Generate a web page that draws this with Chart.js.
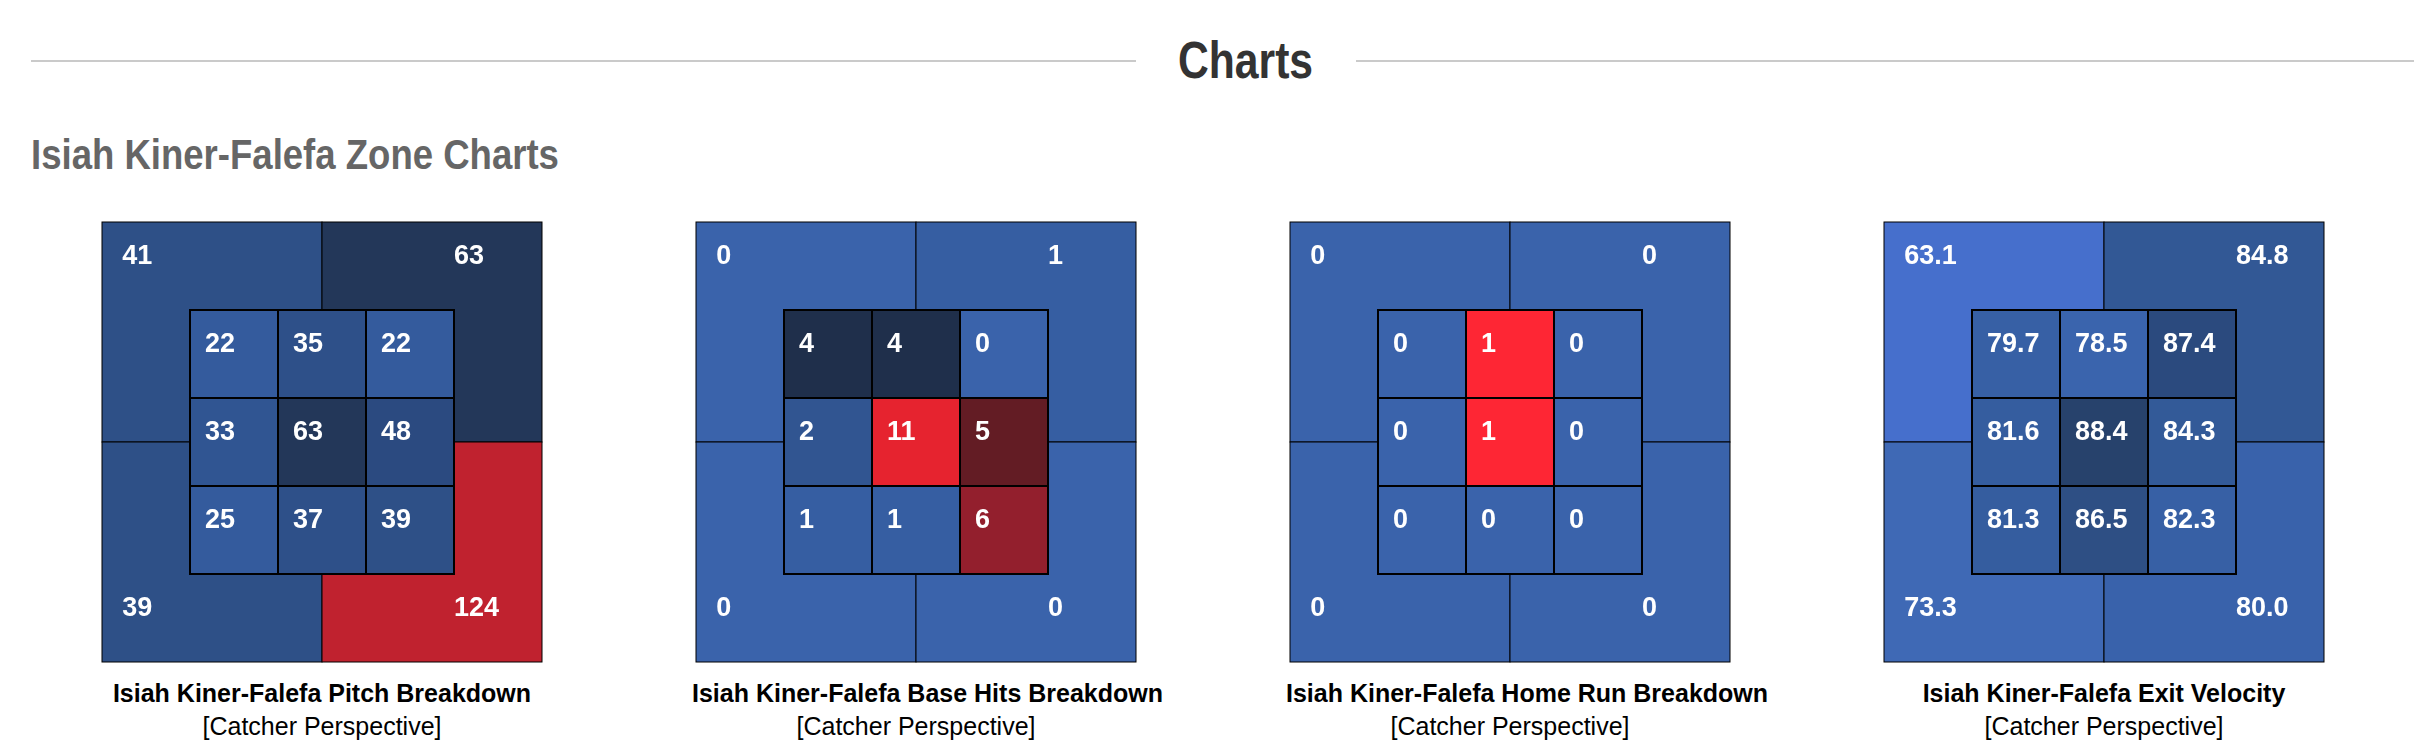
<!DOCTYPE html>
<html>
<head>
<meta charset="utf-8">
<script src="https://cdn.jsdelivr.net/npm/chart.js@4.4.1/dist/chart.umd.min.js"></script>
<style>
  body { margin: 0; width: 2414px; height: 754px; background: #fff; position: relative; overflow: hidden;
         font-family: "Liberation Sans", Arial, Helvetica, sans-serif; }
  .rule { position: absolute; top: 60px; height: 2px; background: #cacaca; }
  .head { position: absolute; font-family: "Liberation Sans", Arial, sans-serif;
          font-weight: bold; line-height: 1; white-space: nowrap; transform-origin: left top; }
  .zone { position: absolute; top: 218px; }
  .zone canvas { display: block; }
  .cap { width: 448px; text-align: center; color: #000; font-size: 25px; line-height: 1; white-space: nowrap; }
  .cap b { display: block; margin-top: 15px; }
  .cap span { display: block; margin-top: 8px; }
</style>
</head>
<body>
<div class="rule" style="left:31px;width:1105px"></div>
<div class="rule" style="left:1356px;width:1058px"></div>
<div class="head" style="left:1178px;top:34px;font-size:52px;color:#333;transform:scaleX(0.82)">Charts</div>
<div class="head" style="left:31px;top:134px;font-size:42px;color:#666;transform:scaleX(0.87)">Isiah Kiner-Falefa Zone Charts</div>
<div id="zones"></div>

<script>
// zone values: outer = [top-left, top-right, bottom-left, bottom-right], inner = 3x3 by rows
const titles = [
  'Isiah Kiner-Falefa Pitch Breakdown',
  'Isiah Kiner-Falefa Base Hits Breakdown',
  'Isiah Kiner-Falefa Home Run Breakdown',
  'Isiah Kiner-Falefa Exit Velocity'
];
const pitchOuter = [41, 63, 39, 124];
const pitchInner = [22, 35, 22, 33, 63, 48, 25, 37, 39];
const hitsOuter = [0, 1, 0, 0];
const hitsInner = [4, 4, 0, 2, 11, 5, 1, 1, 6];
const hrOuter = [0, 0, 0, 0];
const hrInner = [0, 1, 0, 0, 1, 0, 0, 0, 0];
const evOuter = [63.1, 84.8, 73.3, 80.0];
const evInner = [79.7, 78.5, 87.4, 81.6, 88.4, 84.3, 81.3, 86.5, 82.3];

// cell colours as shown on the page
const pitchColors = ['#2e5087', '#233759', '#2e5087', '#c0222f',
  '#345b9d', '#2e5089', '#345b9d', '#305592', '#233759', '#2b4a80', '#345b9d', '#2e5089', '#2e5087'];
const hitsColors = ['#3a63ab', '#365ea2', '#3a63ab', '#3a63ab',
  '#1f2f4b', '#1f2f4b', '#3a63ab', '#315591', '#e6232f', '#631c24', '#365ea2', '#365ea2', '#931f2d'];
const hrColors = ['#3a63ab', '#3a63ab', '#3a63ab', '#3a63ab',
  '#3a63ab', '#fe2634', '#3a63ab', '#3a63ab', '#fe2634', '#3a63ab', '#3a63ab', '#3a63ab', '#3a63ab'];
const evColors = ['#466fcc', '#325895', '#3f69b5', '#3962ab',
  '#3760a5', '#3a64ad', '#2b4a7e', '#355d9f', '#27426c', '#335a98', '#355d9f', '#2e4f84', '#3760a5'];

const charts = [
  { outer: pitchOuter, inner: pitchInner, colors: pitchColors, dec: 0 },
  { outer: hitsOuter, inner: hitsInner, colors: hitsColors, dec: 0 },
  { outer: hrOuter, inner: hrInner, colors: hrColors, dec: 0 },
  { outer: evOuter, inner: evInner, colors: evColors, dec: 1 }
];

// grid is 5 units wide: quadrants split at 2.5, strike zone covers 1..4
function buildCells(outer, inner) {
  const cells = [];
  outer.forEach((v, i) => {
    const col = i % 2, row = Math.floor(i / 2);
    cells.push({ x0: col * 2.5, x1: col * 2.5 + 2.5, y0: row * 2.5, y1: row * 2.5 + 2.5,
      lx: col ? 4.0 : 0.23, ly: row ? 4.39 : 0.39, v: v, inner: false,
      x: col * 2.5 + 1.25, y: row * 2.5 + 1.25 });
  });
  inner.forEach((v, i) => {
    const col = i % 3, row = Math.floor(i / 3);
    cells.push({ x0: 1 + col, x1: 2 + col, y0: 1 + row, y1: 2 + row,
      lx: 1.17 + col, ly: 1.39 + row, v: v, inner: true,
      x: 1.5 + col, y: 1.5 + row });
  });
  return cells;
}

const zonePlugin = {
  id: 'zones',
  afterDatasetsDraw(chart) {
    const ctx = chart.ctx, xs = chart.scales.x, ys = chart.scales.y;
    const ds = chart.data.datasets[0];
    ctx.save();
    ds.data.forEach((c, i) => {
      const l = xs.getPixelForValue(c.x0), r = xs.getPixelForValue(c.x1);
      const t = ys.getPixelForValue(c.y0), b = ys.getPixelForValue(c.y1);
      ctx.fillStyle = ds.cellColors[i];
      ctx.fillRect(l, t, r - l, b - t);
      ctx.lineWidth = c.inner ? 2 : 1;
      ctx.strokeStyle = '#000';
      ctx.strokeRect(l, t, r - l, b - t);
      ctx.fillStyle = '#fff';
      ctx.font = 'bold 27px "Liberation Sans", Arial, sans-serif';
      ctx.textBaseline = 'middle';
      ctx.textAlign = 'left';
      ctx.fillText(c.v.toFixed(ds.dec), xs.getPixelForValue(c.lx), ys.getPixelForValue(c.ly));
    });
    ctx.restore();
  }
};

const holder = document.getElementById('zones');
charts.forEach((z, k) => {
  const wrap = document.createElement('div');
  wrap.className = 'zone';
  wrap.style.left = (98 + 594 * k) + 'px';
  const cv = document.createElement('canvas');
  cv.width = 448; cv.height = 448;
  cv.style.width = '448px'; cv.style.height = '448px';
  wrap.appendChild(cv);
  const cap = document.createElement('div');
  cap.className = 'cap';
  cap.innerHTML = '<b>' + titles[k] + '</b><span>[Catcher Perspective]</span>';
  wrap.appendChild(cap);
  holder.appendChild(wrap);

  new Chart(cv, {
    type: 'scatter',
    data: {
      datasets: [{
        data: buildCells(z.outer, z.inner),
        cellColors: z.colors,
        dec: z.dec,
        pointRadius: 0
      }]
    },
    options: {
      responsive: false,
      animation: false,
      devicePixelRatio: 1,
      layout: { padding: 4 },
      plugins: { legend: { display: false }, tooltip: { enabled: false } },
      scales: {
        x: { type: 'linear', min: 0, max: 5, display: false },
        y: { type: 'linear', min: 0, max: 5, reverse: true, display: false }
      }
    },
    plugins: [zonePlugin]
  });
});
</script>
</body>
</html>
